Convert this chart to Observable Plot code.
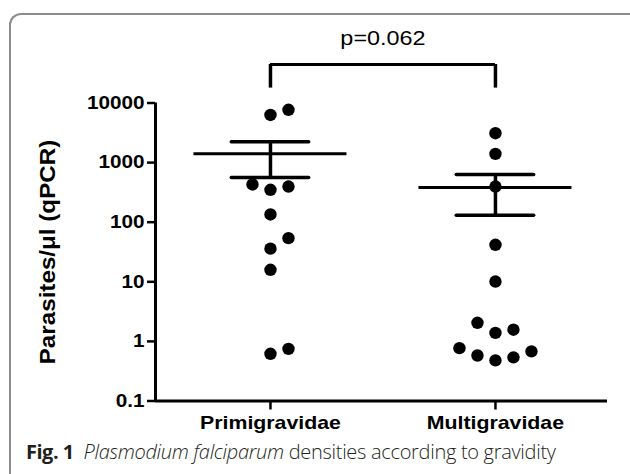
<!DOCTYPE html>
<html>
<head>
<meta charset="utf-8">
<script src="https://cdn.jsdelivr.net/npm/d3@7"></script>
<script src="https://cdn.jsdelivr.net/npm/@observablehq/plot@0.6"></script>
<style>
  html, body { margin: 0; padding: 0; background: #fff; }
  #page { position: relative; width: 630px; height: 474px; overflow: hidden; background: #fff; }
  #border { position: absolute; left: 9px; top: 13px; width: 800px; height: 800px;
            border-left: 2px solid #8c8c8c; border-top: 2px solid #8c8c8c; border-top-left-radius: 12px; }
  #chart { position: absolute; left: 0; top: 0; }
  #caption { position: absolute; left: 26px; top: 439px; font-family: "Open Sans", "Noto Sans", sans-serif;
             font-size: 20px; line-height: 26px; color: #231f20; white-space: nowrap; letter-spacing: -0.3px; }
  #caption b { font-weight: 700; letter-spacing: -0.5px; }
  #caption i { font-weight: 300; }
  #caption span.rest { font-weight: 300; }
</style>
</head>
<body>
<div id="page">
  <div id="border"></div>
  <div id="chart"></div>
  <div id="caption"><b>Fig. 1</b>&nbsp;&nbsp;<i>Plasmodium falciparum</i><span class="rest"> densities according to gravidity</span></div>
</div>
<script>
// ---- data ----
const categories = ["Primigravidae", "Multigravidae"];
const primigravidae = [0.62, 0.75, 15.9, 36, 54, 135, 350, 397, 430, 6300, 7700];
const multigravidae = [0.48, 0.54, 0.58, 0.68, 0.77, 1.39, 1.57, 2.05, 10.1, 41.8, 397, 1400, 3110];
const yTicks = [0.1, 1, 10, 100, 1000, 10000];
const yTickLabels = ["0.1", "1", "10", "100", "1000", "10000"];
const yTitle = "Parasites/\u03bcl (qPCR)";
const pLabel = "p=0.062";

// ---- derived ----
const groups = [primigravidae, multigravidae];
const slotStep = 0.08;           // horizontal spacing of side-by-side dots (category units)
const collide = 0.235;           // vertical overlap threshold (decades)
const points = [];
groups.forEach((vals, gi) => {
  const placed = [];
  [...vals].sort((a, b) => a - b).forEach(v => {
    const lv = Math.log10(v);
    for (const s of [0, 1, -1, 2, -2, 3, -3]) {
      if (!placed.some(p => p.slot === s && Math.abs(p.lv - lv) < collide)) {
        placed.push({slot: s, lv});
        points.push({group: categories[gi], x: gi + 1 + s * slotStep, y: v});
        break;
      }
    }
  });
});
const stats = groups.map((vals, gi) => {
  const m = d3.mean(vals), se = d3.deviation(vals) / Math.sqrt(vals.length);
  return {x: gi + 1, mean: m, hi: m + se, lo: m - se};
});
const caps = stats.flatMap(s => [{x: s.x, y: s.hi}, {x: s.x, y: s.lo}]);
const xDomain = [0.489, 2.498];
const bracketTop = Math.pow(10, 4.646);
const bracketFoot = Math.pow(10, 4.25);

const plot = Plot.plot({
  width: 630,
  height: 440,
  marginLeft: 155,
  marginRight: 23,
  marginTop: 102.5,
  marginBottom: 39.5,
  x: {type: "linear", domain: xDomain, axis: null},
  y: {type: "log", domain: [0.1, 10000], axis: null},
  style: {fontFamily: "'Liberation Sans', Arial, sans-serif", color: "black", background: "transparent", overflow: "visible"},
  marks: [
    Plot.axisY({ticks: yTicks, tickFormat: d => yTickLabels[yTicks.indexOf(d)], tickSize: 8, tickPadding: 3,
                fontSize: 18, fontWeight: "bold", strokeWidth: 2.5, label: null}),
    Plot.axisX({ticks: [1, 2], tickFormat: d => categories[d - 1], tickSize: 9, tickPadding: 5,
                fontSize: 19, fontWeight: "bold", strokeWidth: 2.5, label: null}),
    Plot.ruleX([xDomain[0]], {x: d => d, strokeWidth: 3}),
    Plot.ruleY([0.1], {y: d => d, strokeWidth: 3}),
    Plot.ruleY(stats, {y: "mean", x1: d => d.x - 0.34, x2: d => d.x + 0.34, strokeWidth: 3}),
    Plot.ruleY(caps, {y: "y", x1: d => d.x - 0.172, x2: d => d.x + 0.172, strokeWidth: 3.5, strokeLinecap: "round"}),
    Plot.ruleX(stats, {x: "x", y1: "lo", y2: "hi", strokeWidth: 3.5}),
    Plot.dot(points, {x: "x", y: "y", r: 6.2, fill: "black", stroke: null}),
    Plot.ruleY([bracketTop], {y: d => d, x1: 1, x2: 2, strokeWidth: 3}),
    Plot.ruleX([1, 2], {x: d => d, y1: bracketFoot, y2: bracketTop, strokeWidth: 3.5}),
    Plot.text([pLabel], {x: 1.5, y: bracketTop, dy: -26, text: d => d, fontSize: 19.5, textAnchor: "middle", fill: "black"}),
    Plot.text([yTitle], {frameAnchor: "left", textAnchor: "middle", dx: -108, rotate: -90, text: d => d,
                         fontSize: 22, fontWeight: "bold", fill: "black"})
  ]
});
document.getElementById("chart").appendChild(plot);

// horizontal stretch of labels (the reference's type is slightly widened)
function stretch(list, k) {
  list.forEach(t => {
    const w = t.getComputedTextLength();
    t.setAttribute("textLength", (w * k).toFixed(1));
    t.setAttribute("lengthAdjust", "spacingAndGlyphs");
  });
}
const texts = [...plot.querySelectorAll('g[aria-label="text"] text')];
stretch(plot.querySelectorAll('g[aria-label="y-axis tick label"] text'), 1.15);
stretch(plot.querySelectorAll('g[aria-label="x-axis tick label"] text'), 1.12);
stretch(texts.filter(t => t.textContent === pLabel), 1.2);
stretch(texts.filter(t => t.textContent === yTitle), 1.1);
</script>
</body>
</html>
